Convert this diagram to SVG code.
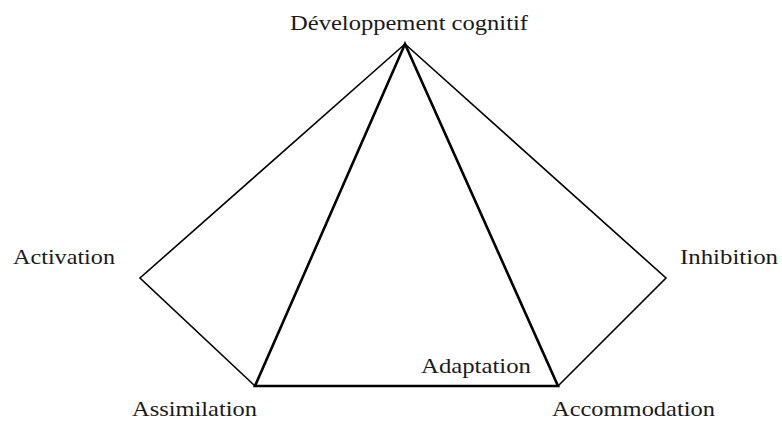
<svg xmlns="http://www.w3.org/2000/svg" width="782" height="422" viewBox="0 0 782 422">
<style>
text{font-family:"Liberation Serif","Times New Roman",serif;font-size:21px;fill:#1a1a1a}
.thin{stroke:#000;stroke-width:1.6;fill:none;stroke-linejoin:miter}
.thick{stroke:#000;stroke-width:2.6;fill:none;stroke-linejoin:miter}
</style>
<rect width="782" height="422" fill="#fff"/>
<g id="connectors">
<polyline class="thin" points="405,44 140,278 255,386"/>
<polyline class="thin" points="405,44 666,278 558,386"/>
<polygon class="thick" points="405,44 255,386 558,386"/>
</g>
<g id="node-developpement"><text x="290" y="30" textLength="238" lengthAdjust="spacingAndGlyphs">Développement cognitif</text></g>
<g id="node-activation"><text x="13" y="264" textLength="102" lengthAdjust="spacingAndGlyphs">Activation</text></g>
<g id="node-inhibition"><text x="680" y="264" textLength="98" lengthAdjust="spacingAndGlyphs">Inhibition</text></g>
<g id="node-assimilation"><text x="132" y="416" textLength="125" lengthAdjust="spacingAndGlyphs">Assimilation</text></g>
<g id="node-accommodation"><text x="552" y="416" textLength="163" lengthAdjust="spacingAndGlyphs">Accommodation</text></g>
<g id="node-adaptation"><text x="421" y="373" textLength="110" lengthAdjust="spacingAndGlyphs">Adaptation</text></g>
</svg>
